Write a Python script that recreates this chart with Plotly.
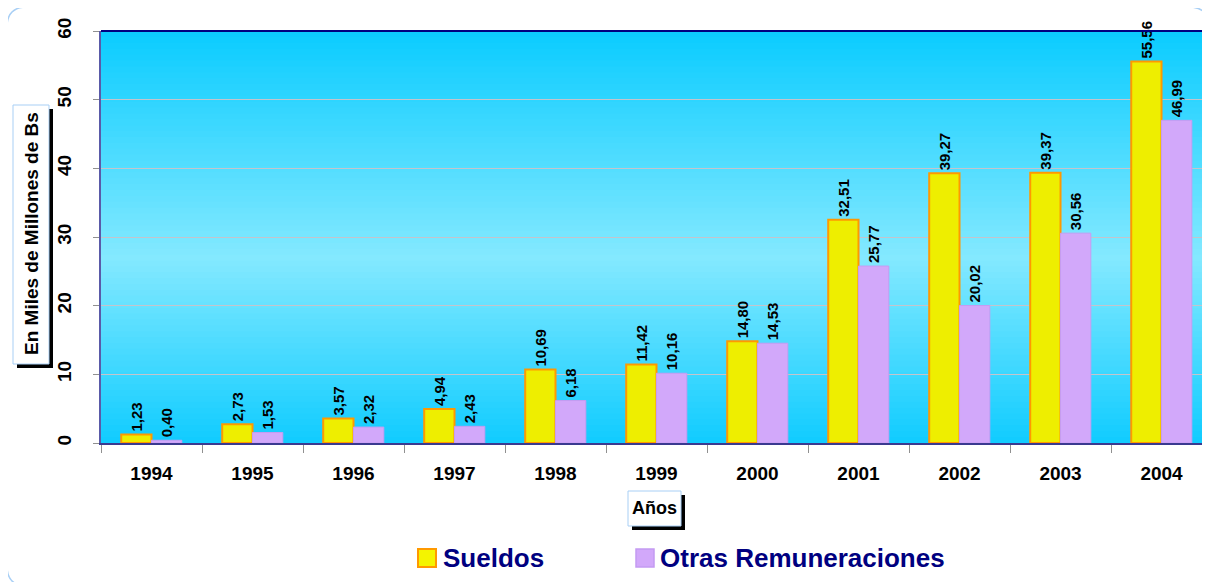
import plotly.graph_objects as go

years = ["1994", "1995", "1996", "1997", "1998", "1999", "2000", "2001", "2002", "2003", "2004"]
sueldos = [1.23, 2.73, 3.57, 4.94, 10.69, 11.42, 14.80, 32.51, 39.27, 39.37, 55.56]
otras = [0.40, 1.53, 2.32, 2.43, 6.18, 10.16, 14.53, 25.77, 20.02, 30.56, 46.99]
series_names = ["Sueldos", "Otras Remuneraciones"]
y_title = "En Miles de Millones de Bs"
x_title = "Años"

OFF = 8  # page body margin
W, H = 1210 - OFF, 582 - OFF
ML, MR, MT, MB = 101 - OFF, 0, 31 - OFF, 582 - 443
PW, PH = W - ML - MR, H - MT - MB
FONT = "Liberation Sans, Arial, sans-serif"


def px(x):
    return (x - OFF - ML) / PW


def py(y):
    return (H - MB - (y - OFF)) / PH


fig = go.Figure()
fig.add_trace(go.Bar(
    x=years, y=sueldos, name=series_names[0],
    marker=dict(color="#eeee00", line=dict(color="#ff9900", width=2)),
    texttemplate="%{y:.2f}", textposition="outside", textangle=-90,
    constraintext="none",
    textfont=dict(family=FONT, size=15, color="black", weight="bold"),
    cliponaxis=False, showlegend=False,
))
fig.add_trace(go.Bar(
    x=years, y=otras, name=series_names[1],
    marker=dict(color="#d2a8fa", line=dict(color="#c69cf2", width=1)),
    texttemplate="%{y:.2f}", textposition="outside", textangle=-90,
    constraintext="none",
    textfont=dict(family=FONT, size=15, color="black", weight="bold"),
    cliponaxis=False, showlegend=False,
))

shapes = []
# background vertical gradient
N = 70
stops = [(0.0, (16, 204, 255)), (0.45, (132, 233, 255)), (1.0, (10, 204, 255))]


def col(t):
    for (t0, c0), (t1, c1) in zip(stops[:-1], stops[1:]):
        if t0 <= t <= t1:
            f = (t - t0) / (t1 - t0)
            return "rgb(%d,%d,%d)" % tuple(round(a + (b - a) * f) for a, b in zip(c0, c1))
    return "rgb(%d,%d,%d)" % stops[-1][1]


for i in range(N):
    t0, t1 = i / N, (i + 1) / N
    shapes.append(dict(type="rect", xref="paper", yref="paper", x0=0, x1=1,
                       y0=t0, y1=t1 + 0.002, fillcolor=col((t0 + t1) / 2),
                       line=dict(width=0), layer="below"))

# top border
shapes.append(dict(type="line", xref="paper", yref="paper", x0=0, x1=1, y0=1, y1=1,
                   line=dict(color="#000080", width=2), layer="above"))

# outer rounded border
r = 20
L, R, T, B = 7, 1209, 7, 586
pts = [("M", [(L + r, T)]), ("L", [(R - r, T)]), ("Q", [(R, T), (R, T + r)]),
       ("L", [(R, B - r)]), ("Q", [(R, B), (R - r, B)]), ("L", [(L + r, B)]),
       ("Q", [(L, B), (L, B - r)]), ("L", [(L, T + r)]), ("Q", [(L, T), (L + r, T)])]
path = ""
for cmd, ps in pts:
    path += cmd + " " + " ".join("%.5f,%.5f" % (px(a), py(b)) for a, b in ps) + " "
path += "Z"
shapes.append(dict(type="path", xref="paper", yref="paper", path=path,
                   line=dict(color="#a8cff5", width=1.5), layer="below"))


def boxed(x0, y0, x1, y1, off):
    shapes.append(dict(type="rect", xref="paper", yref="paper",
                       x0=px(x0 + off), x1=px(x1 + off), y0=py(y1 + off), y1=py(y0 + off),
                       fillcolor="black", line=dict(width=0), layer="above"))
    shapes.append(dict(type="rect", xref="paper", yref="paper",
                       x0=px(x0), x1=px(x1), y0=py(y1), y1=py(y0),
                       fillcolor="white", line=dict(color="#a8cff5", width=1), layer="above"))


boxed(13, 105, 49, 364, 4)
boxed(628, 491, 681, 526, 4)

# legend swatches
shapes.append(dict(type="rect", xref="paper", yref="paper", x0=px(418), x1=px(436),
                   y0=py(567), y1=py(549), fillcolor="#f4f400",
                   line=dict(color="#ff9900", width=2), layer="above"))
shapes.append(dict(type="rect", xref="paper", yref="paper", x0=px(636), x1=px(654),
                   y0=py(567), y1=py(549), fillcolor="#d2a8fa",
                   line=dict(color="#c49af2", width=1.5), layer="above"))

annotations = [
    dict(text=y_title, xref="paper", yref="paper", x=px(31), y=py(234), textangle=-90,
         showarrow=False, font=dict(family=FONT, size=19, color="black", weight="bold"),
         xanchor="center", yanchor="middle"),
    dict(text=x_title, xref="paper", yref="paper", x=px(654.5), y=py(508),
         showarrow=False, font=dict(family=FONT, size=18, color="black", weight="bold"),
         xanchor="center", yanchor="middle"),
    dict(text=series_names[0], xref="paper", yref="paper", x=px(441), y=py(558),
         showarrow=False, font=dict(family=FONT, size=26, color="#000080", weight="bold"),
         xanchor="left", yanchor="middle"),
    dict(text=series_names[1], xref="paper", yref="paper", x=px(658), y=py(558),
         showarrow=False, font=dict(family=FONT, size=26, color="#000080", weight="bold"),
         xanchor="left", yanchor="middle"),
]

fig.update_layout(
    width=W, height=H,
    margin=dict(l=ML, r=MR, t=MT, b=MB, autoexpand=False),
    paper_bgcolor="white", plot_bgcolor="rgba(0,0,0,0)",
    barmode="group", bargap=0.4, bargroupgap=0,
    separators=",.",
    shapes=shapes, annotations=annotations,
    font=dict(family=FONT),
)
fig.update_xaxes(
    type="category", range=[-0.5, 10.48],
    tickson="boundaries", ticks="outside", ticklen=8, tickcolor="#909090", tickwidth=1,
    tickfont=dict(family=FONT, size=19, color="black", weight="bold"),
    ticklabelstandoff=12,
    showline=True, linecolor="#3a3a90", linewidth=2, mirror=False,
    showgrid=False, zeroline=False,
)
fig.update_yaxes(
    range=[0, 60], dtick=10, tickangle=-90,
    ticks="outside", ticklen=6, tickcolor="#909090", tickwidth=1,
    tickfont=dict(family=FONT, size=19, color="black", weight="bold"),
    ticklabelstandoff=14,
    showline=True, linecolor="#5a5aa8", linewidth=2,
    showgrid=True, gridcolor="#c4c4cc", gridwidth=1, zeroline=False,
)

fig.write_html("out.html")
